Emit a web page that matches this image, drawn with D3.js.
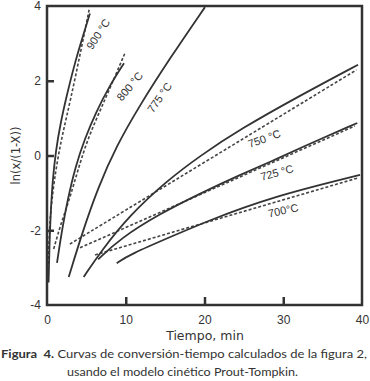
<!DOCTYPE html>
<html>
<head>
<meta charset="utf-8">
<script src="https://cdn.jsdelivr.net/npm/d3@7"></script>
<style>
	body { margin: 0; background: #fff; }
	svg { display: block; }
</style>
</head>
<body>
<svg id="chart" width="370" height="381"></svg>
<script>
// experimental curves (solid), t in min, value ln(x/(1-X))
var solid900 = [[0.2,-3.4],[0.3,-2.5],[0.45,-1.6],[0.7,-0.7],[1.1,0.1],[1.7,0.85],[2.5,1.6],[3.5,2.45],[4.5,3.15],[5.45,3.8]];
var solid800 = [[1.27,-2.87],[1.9,-2.0],[2.6,-1.2],[3.6,-0.3],[4.8,0.45],[6.2,1.15],[7.9,1.85],[9.78,2.47]];
var solid775 = [[2.76,-3.25],[4.5,-2.05],[6.5,-0.85],[8.8,0.25],[11.8,1.35],[15.6,2.6],[20.06,3.97]];
var solid750 = [[4.66,-3.25],[6.9,-2.55],[10.5,-1.6],[15.2,-0.68],[19.5,0.0],[24.5,0.7],[32.1,1.6],[39.5,2.43]];
var solid725 = [[6.5,-2.78],[9.3,-2.22],[14.3,-1.56],[19.8,-0.98],[24.5,-0.52],[28.7,-0.14],[32.1,0.2],[39.4,0.87]];
var solid700 = [[8.85,-2.88],[10.5,-2.65],[16.0,-2.15],[20.3,-1.76],[28.3,-1.12],[39.75,-0.52]];

// Prout-Tompkin model (dashed)
var model900 = [[0.15,-2.9],[0.35,-1.8],[0.6,-1.2],[1.2,-0.25],[2.0,0.6],[3.0,1.5],[4.2,2.7],[5.35,3.9]];
var model800 = [[0.85,-2.5],[1.8,-1.8],[2.9,-1.15],[4.66,0.15],[6.0,0.85],[7.37,1.5],[8.6,2.1],[9.9,2.74]];
var model750 = [[2.9,-2.37],[20,-0.18],[39.3,2.29]];
var model725 = [[4.19,-2.47],[39.1,0.79]];
var model700 = [[6.1,-2.66],[39.5,-0.6]];

var tempLabels = ['900 °C', '800 °C', '775 °C', '750 °C', '725 °C', '700°C'];
var labelPos = [[6.5,3.25],[10.5,1.85],[14.3,1.55],[27.6,0.45],[29.2,-0.46],[30.0,-1.47]];
var labelAngle = [-57, -50, -55, -20, -15, -12];

var xTicks = [0, 10, 20, 30, 40];
var yTicks = [-4, -2, 0, 2, 4];

var ink = '#333';
var svg = d3.select('#chart');
var margin = {left: 47, right: 8, top: 6, bottom: 76};
var W = 370, H = 381;

var x = d3.scaleLinear().domain([0, 40]).range([margin.left, W - margin.right]);
var y = d3.scaleLinear().domain([-4, 4]).range([H - margin.bottom, margin.top]);

svg.append('clipPath').attr('id', 'plotclip')
	.append('rect')
	.attr('x', x(0)).attr('y', y(4))
	.attr('width', x(40) - x(0)).attr('height', y(-4) - y(4));

var line = d3.line()
	.x(function(d){ return x(d[0]); })
	.y(function(d){ return y(d[1]); })
	.curve(d3.curveBasis);

var g = svg.append('g').attr('clip-path', 'url(#plotclip)');

var solids = [solid900, solid800, solid775, solid750, solid725, solid700];
var models = [model900, model800, model750, model725, model700];

g.selectAll('path.model').data(models).enter().append('path')
	.attr('class', 'model')
	.attr('d', line)
	.attr('fill', 'none')
	.attr('stroke', '#444')
	.attr('stroke-width', 1.6)
	.attr('stroke-dasharray', '3,2');

g.selectAll('path.solid').data(solids).enter().append('path')
	.attr('class', 'solid')
	.attr('d', line)
	.attr('fill', 'none')
	.attr('stroke', ink)
	.attr('stroke-width', 1.8);

// temperature labels
svg.selectAll('text.temp').data(tempLabels).enter().append('text')
	.attr('class', 'temp')
	.attr('transform', function(d, i){
		return 'translate(' + x(labelPos[i][0]) + ',' + y(labelPos[i][1]) + ') rotate(' + labelAngle[i] + ')';
	})
	.attr('text-anchor', 'middle')
	.attr('dy', '0.35em')
	.attr('font-family', 'Liberation Sans, Arial, sans-serif')
	.attr('font-size', 11)
	.attr('fill', ink)
	.text(function(d){ return d; });

// frame
svg.append('rect')
	.attr('x', x(0)).attr('y', y(4))
	.attr('width', x(40) - x(0)).attr('height', y(-4) - y(4))
	.attr('fill', 'none')
	.attr('stroke', ink)
	.attr('stroke-width', 2.5);

// axes with inward ticks
var yAxis = d3.axisLeft(y).tickValues(yTicks).tickSize(-7).tickPadding(6);
var xAxis = d3.axisBottom(x).tickValues(xTicks).tickSize(-8).tickPadding(10);

var ya = svg.append('g').attr('transform', 'translate(' + x(0) + ',0)').call(yAxis);
var xa = svg.append('g').attr('transform', 'translate(0,' + y(-4) + ')').call(xAxis);

[ya, xa].forEach(function(a){
	a.select('.domain').remove();
	a.selectAll('line').attr('stroke', ink).attr('stroke-width', 2.5);
	a.selectAll('text')
		.attr('font-family', 'Liberation Sans, Arial, sans-serif')
		.attr('font-size', 12)
		.attr('fill', ink);
});
ya.selectAll('.tick line').filter(function(d){ return d == 4 || d == -4; }).remove();
xa.selectAll('.tick line').filter(function(d){ return d == 0 || d == 40; }).remove();
ya.selectAll('text').text(function(d){ return d < 0 ? '-' + Math.abs(d) : d; });

// axis titles
svg.append('text')
	.attr('transform', 'translate(20,' + ((y(4) + y(-4)) / 2) + ') rotate(-90)')
	.attr('text-anchor', 'middle')
	.attr('font-family', 'DejaVu Sans, sans-serif')
	.attr('font-size', 11.5)
	.attr('fill', ink)
	.text('ln(x/(1-X))');

svg.append('text')
	.attr('x', 205).attr('y', 340)
	.attr('text-anchor', 'middle')
	.attr('font-family', 'DejaVu Sans, sans-serif')
	.attr('font-size', 12.5)
	.attr('fill', ink)
	.text('Tiempo, min');

// caption
var cap = svg.append('text')
	.attr('x', 1).attr('y', 358)
	.attr('font-family', 'Lato, Open Sans, sans-serif')
	.attr('font-size', 12)
	.attr('fill', '#333')
	.attr('textLength', 366)
	.attr('lengthAdjust', 'spacingAndGlyphs');
cap.append('tspan').attr('font-weight', 'bold').text('Figura\u00a0\u00a04.');
cap.append('tspan').text(' Curvas de conversión-tiempo calculados de la figura 2,');

svg.append('text')
	.attr('x', 67).attr('y', 376)
	.attr('font-family', 'Lato, Open Sans, sans-serif')
	.attr('font-size', 12)
	.attr('fill', '#333')
	.attr('textLength', 231)
	.attr('lengthAdjust', 'spacingAndGlyphs')
	.text('usando el modelo cinético Prout-Tompkin.');
</script>
</body>
</html>
